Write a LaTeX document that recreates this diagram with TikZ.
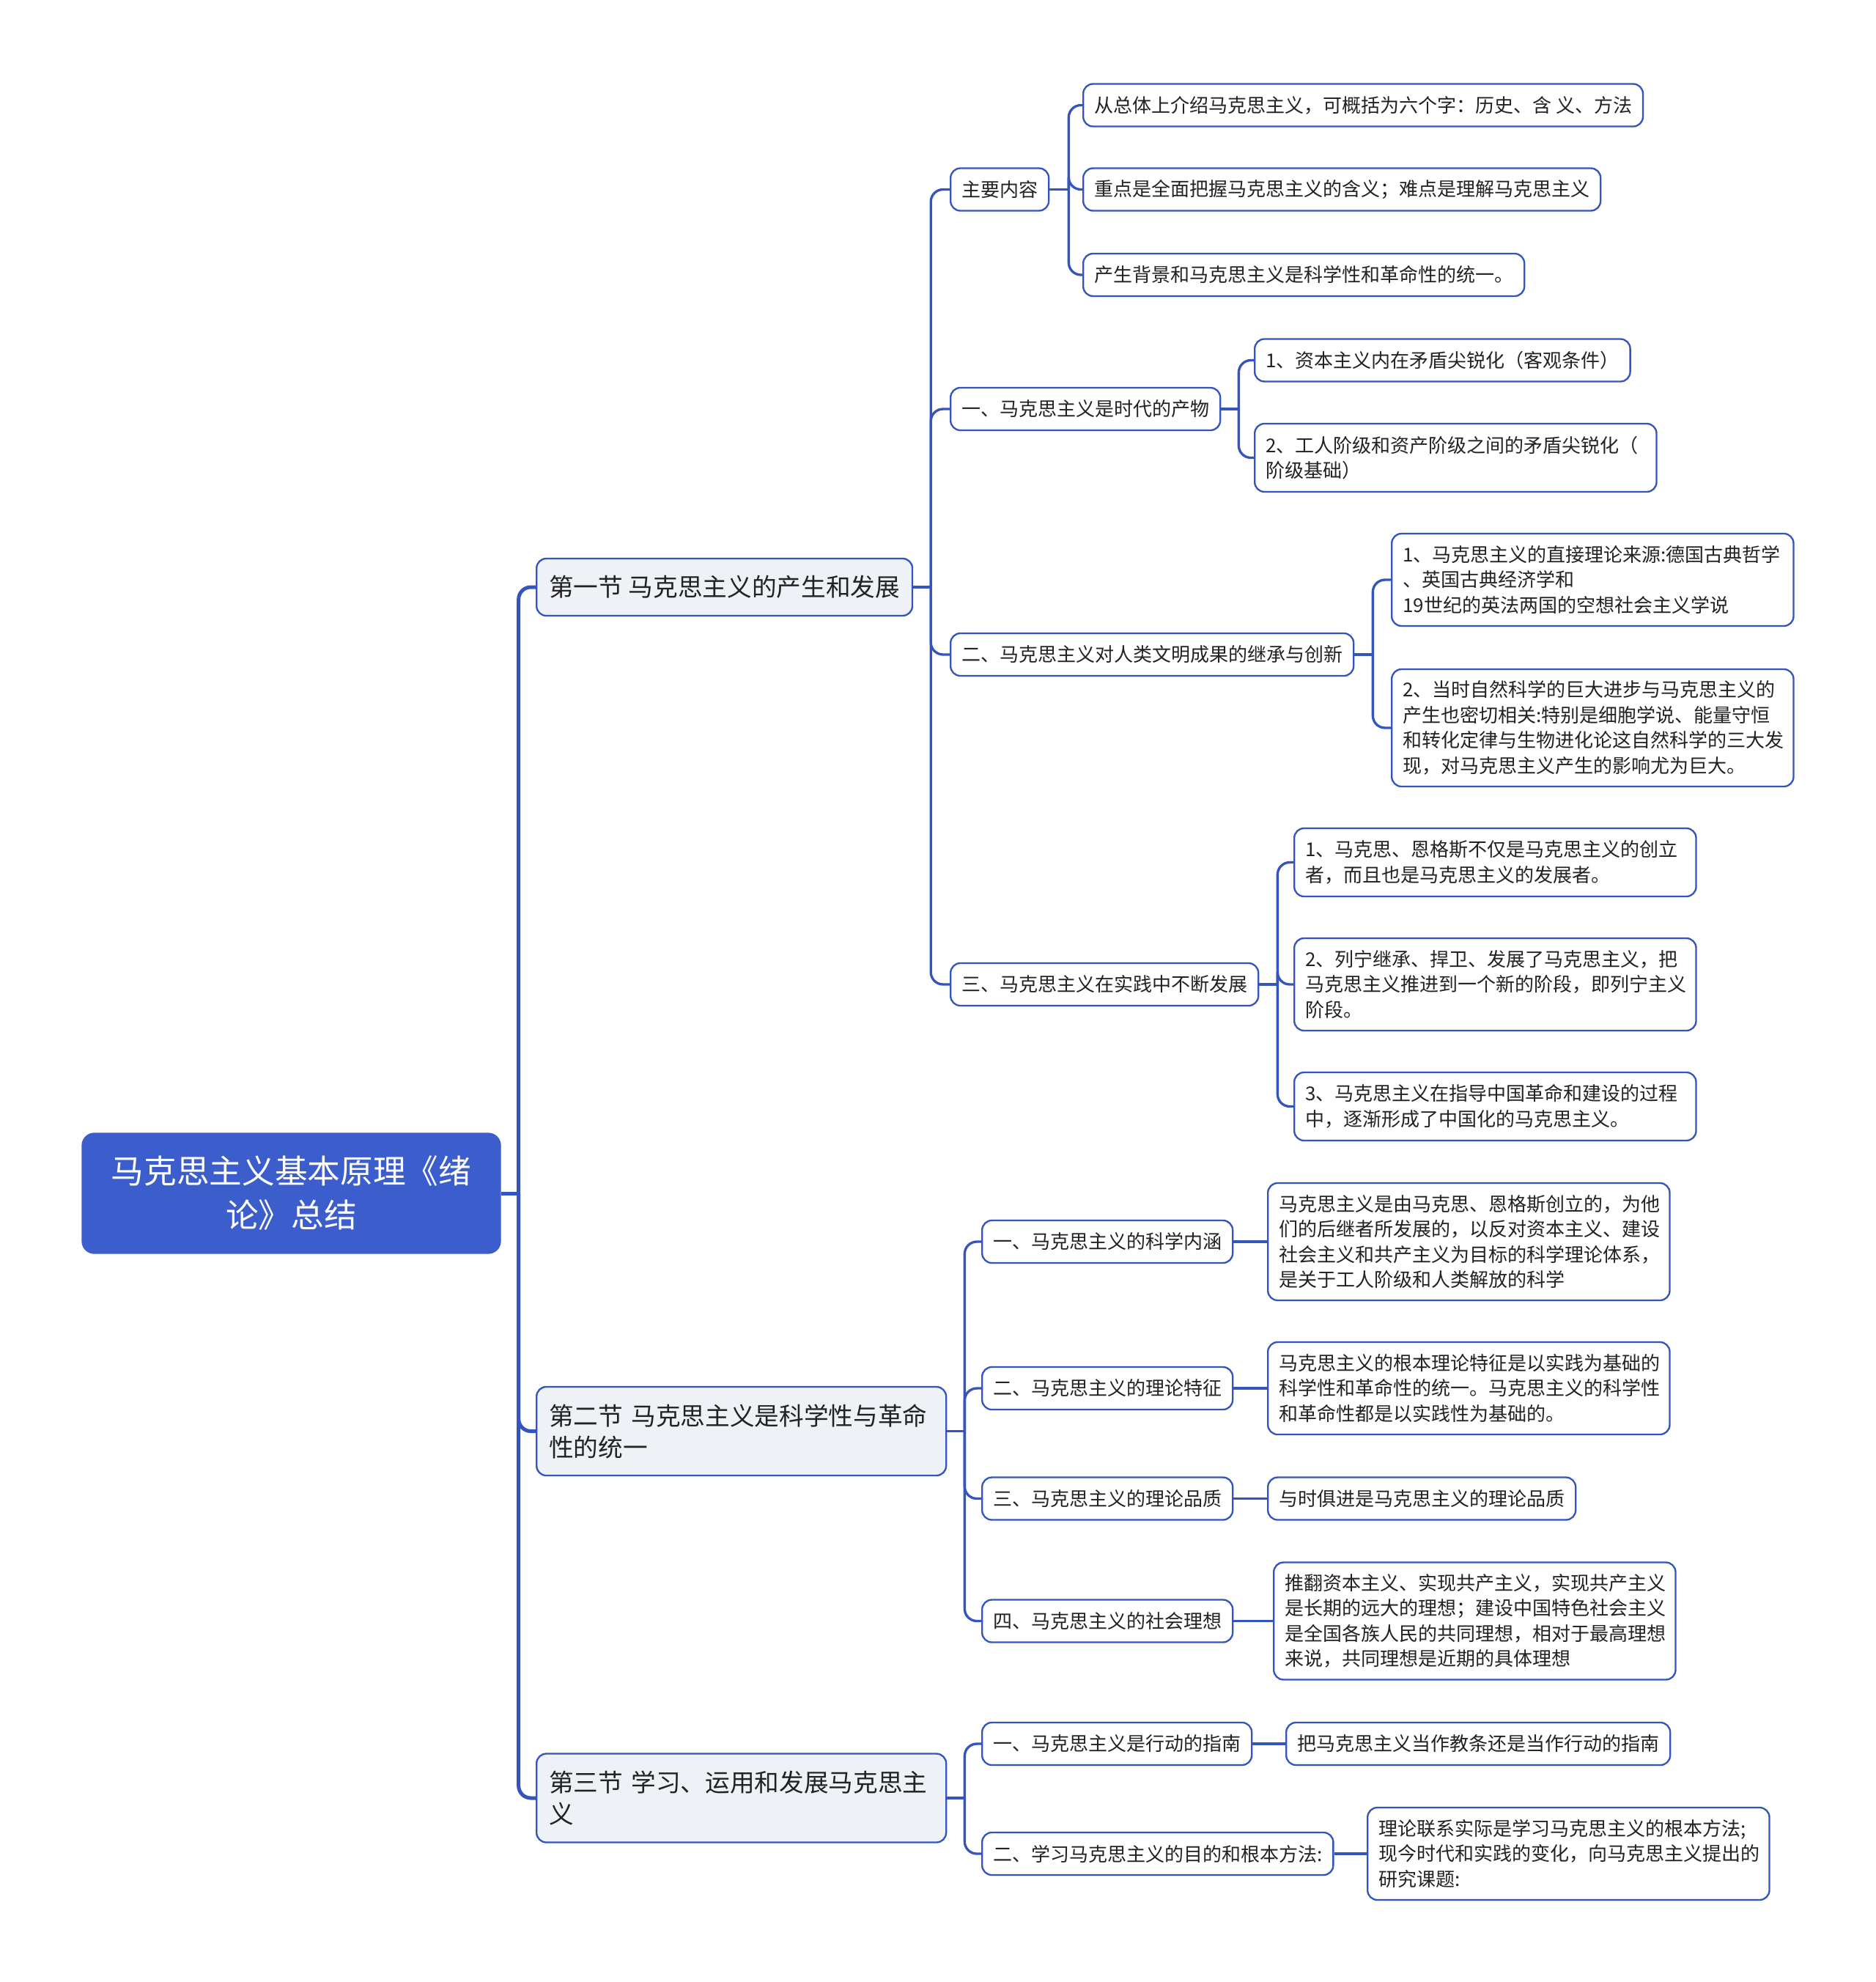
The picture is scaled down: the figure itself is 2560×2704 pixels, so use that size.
\documentclass[tikz,border=0pt]{standalone}
\usepackage{fontspec}
\newfontfamily\cjk{Noto Sans CJK SC}
\definecolor{lineblue}{HTML}{3454C0}
\definecolor{rootblue}{HTML}{3C5ECC}
\definecolor{secgray}{HTML}{EEF1F6}
\definecolor{inkgray}{HTML}{222222}

\begin{document}
\begin{tikzpicture}[x=0.3pt, y=-0.3pt,
    leaf/.style={draw=lineblue, line width=0.7pt, fill=white, rounded corners=4pt,
        text=inkgray, font=\cjk\fontsize{7.8pt}{10.35pt}\selectfont,
        inner xsep=4.5pt, inner ysep=0pt, minimum height=17.4pt, anchor=west, align=left},
    wide/.style={leaf, text width=155.5pt},
    sec/.style={leaf, fill=secgray, font=\cjk\fontsize{10.1pt}{12.9pt}\selectfont,
        inner xsep=5.1pt, minimum height=23.4pt},
    wire/.style={draw=lineblue, line width=1pt, rounded corners=5pt},
    trunk/.style={wire, line width=1.5pt}]
        \useasboundingbox (0,0) rectangle (2560,2704);

        \node (root) [draw=rootblue, fill=rootblue, rounded corners=5pt, text=white,
            font=\cjk\fontsize{13.4pt}{18pt}\selectfont, align=center,
            text width=150pt, minimum width=171.3pt, minimum height=49.2pt]
            at (397.5,1628) {马克思主义基本原理《绪\\论》总结};

        \node (s1) [sec] at (731,801) {第一节~马克思主义的产生和发展};
        \node (s2) [sec, text width=157.5pt, minimum height=36.3pt] at (731,1952.5)
            {第二节~马克思主义是科学性与革命\\性的统一};
        \node (s3) [sec, text width=157.5pt, minimum height=36.3pt] at (731,2453)
            {第三节~学习、运用和发展马克思主\\义};

        % 第一节
        \node (k1) [leaf] at (1296,258.5) {主要内容};
        \node (k2) [leaf] at (1296,558) {一、马克思主义是时代的产物};
        \node (k3) [leaf] at (1296,893) {二、马克思主义对人类文明成果的继承与创新};
        \node (k4) [leaf] at (1296,1343) {三、马克思主义在实践中不断发展};

        \node (k1a) [leaf] at (1477,143.5) {从总体上介绍马克思主义，可概括为六个字：历史、含 义、方法};
        \node (k1b) [leaf] at (1477,258.5) {重点是全面把握马克思主义的含义；难点是理解马克思主义};
        \node (k1c) [leaf] at (1477,375) {产生背景和马克思主义是科学性和革命性的统一。};

        \node (k2a) [leaf] at (1711,491.5) {1、资本主义内在矛盾尖锐化（客观条件）};
        \node (k2b) [wide, minimum height=27.9pt] at (1711,624.5)
            {2、工人阶级和资产阶级之间的矛盾尖锐化（\\阶级基础）};

        \node (k3a) [wide, minimum height=37.8pt] at (1898,791)
            {1、马克思主义的直接理论来源:德国古典哲学\\、英国古典经济学和\\19世纪的英法两国的空想社会主义学说};
        \node (k3b) [wide, minimum height=48pt] at (1898,993)
            {2、当时自然科学的巨大进步与马克思主义的\\产生也密切相关:特别是细胞学说、能量守恒\\和转化定律与生物进化论这自然科学的三大发\\现，对马克思主义产生的影响尤为巨大。};

        \node (k4a) [wide, minimum height=27.9pt] at (1765,1176.5)
            {1、马克思、恩格斯不仅是马克思主义的创立\\者，而且也是马克思主义的发展者。};
        \node (k4b) [wide, minimum height=37.8pt] at (1765,1343)
            {2、列宁继承、捍卫、发展了马克思主义，把\\马克思主义推进到一个新的阶段，即列宁主义\\阶段。};
        \node (k4c) [wide, minimum height=27.9pt] at (1765,1509.5)
            {3、马克思主义在指导中国革命和建设的过程\\中，逐渐形成了中国化的马克思主义。};

        % 第二节
        \node (m1) [leaf] at (1339,1694) {一、马克思主义的科学内涵};
        \node (m2) [leaf] at (1339,1894) {二、马克思主义的理论特征};
        \node (m3) [leaf] at (1339,2044.5) {三、马克思主义的理论品质};
        \node (m4) [leaf] at (1339,2211.5) {四、马克思主义的社会理想};

        \node (m1a) [wide, minimum height=48pt] at (1729,1694)
            {马克思主义是由马克思、恩格斯创立的，为他\\们的后继者所发展的，以反对资本主义、建设\\社会主义和共产主义为目标的科学理论体系，\\是关于工人阶级和人类解放的科学};
        \node (m2a) [wide, minimum height=37.8pt] at (1729,1894)
            {马克思主义的根本理论特征是以实践为基础的\\科学性和革命性的统一。马克思主义的科学性\\和革命性都是以实践性为基础的。};
        \node (m3a) [leaf] at (1729,2044.5) {与时俱进是马克思主义的理论品质};
        \node (m4a) [wide, minimum height=48pt] at (1737,2211.5)
            {推翻资本主义、实现共产主义，实现共产主义\\是长期的远大的理想；建设中国特色社会主义\\是全国各族人民的共同理想，相对于最高理想\\来说，共同理想是近期的具体理想};

        % 第三节
        \node (p1) [leaf] at (1339,2379) {一、马克思主义是行动的指南};
        \node (p2) [leaf] at (1339,2529) {二、学习马克思主义的目的和根本方法:};
        \node (p1a) [leaf] at (1754,2379) {把马克思主义当作教条还是当作行动的指南};
        \node (p2a) [wide, minimum height=37.8pt] at (1865,2529)
            {理论联系实际是学习马克思主义的根本方法;\\现今时代和实践的变化，向马克思主义提出的\\研究课题:};

        % junctions
        \path (root.east) ++(24,0) coordinate (j0);
        \path (s1.east) ++(24,0) coordinate (j1);
        \path (s2.east) ++(24,0) coordinate (j2);
        \path (s3.east) ++(24,0) coordinate (j3);
        \path (k1.east) ++(26,0) coordinate (jk1);
        \path (k2.east) ++(24,0) coordinate (jk2);
        \path (k3.east) ++(25,0) coordinate (jk3);
        \path (k4.east) ++(25,0) coordinate (jk4);

        \draw[trunk] (root.east) -- (j0);
        \draw[trunk] (j0) |- (s1.west);
        \draw[trunk] (j0) |- (s2.west);
        \draw[trunk] (j0) |- (s3.west);
        %
        \draw[wire] (s1.east) -- (j1);
        \draw[wire] (j1) |- (k1.west);
        \draw[wire] (j1) |- (k2.west);
        \draw[wire] (j1) |- (k3.west);
        \draw[wire] (j1) |- (k4.west);
        %
        \draw[wire] (k1.east) -- (jk1);
        \draw[wire] (jk1) |- (k1a.west);
        \draw[wire] (jk1) |- (k1b.west);
        \draw[wire] (jk1) |- (k1c.west);
        \draw[wire] (k2.east) -- (jk2);
        \draw[wire] (jk2) |- (k2a.west);
        \draw[wire] (jk2) |- (k2b.west);
        \draw[wire] (k3.east) -- (jk3);
        \draw[wire] (jk3) |- (k3a.west);
        \draw[wire] (jk3) |- (k3b.west);
        \draw[wire] (k4.east) -- (jk4);
        \draw[wire] (jk4) |- (k4a.west);
        \draw[wire] (jk4) |- (k4b.west);
        \draw[wire] (jk4) |- (k4c.west);
        %
        \draw[wire] (s2.east) -- (j2);
        \draw[wire] (j2) |- (m1.west);
        \draw[wire] (j2) |- (m2.west);
        \draw[wire] (j2) |- (m3.west);
        \draw[wire] (j2) |- (m4.west);
        \draw[wire] (m1.east) -- (m1a.west);
        \draw[wire] (m2.east) -- (m2a.west);
        \draw[wire] (m3.east) -- (m3a.west);
        \draw[wire] (m4.east) -- (m4a.west);
        %
        \draw[wire] (s3.east) -- (j3);
        \draw[wire] (j3) |- (p1.west);
        \draw[wire] (j3) |- (p2.west);
        \draw[wire] (p1.east) -- (p1a.west);
        \draw[wire] (p2.east) -- (p2a.west);
    \end{tikzpicture}
\end{document}
